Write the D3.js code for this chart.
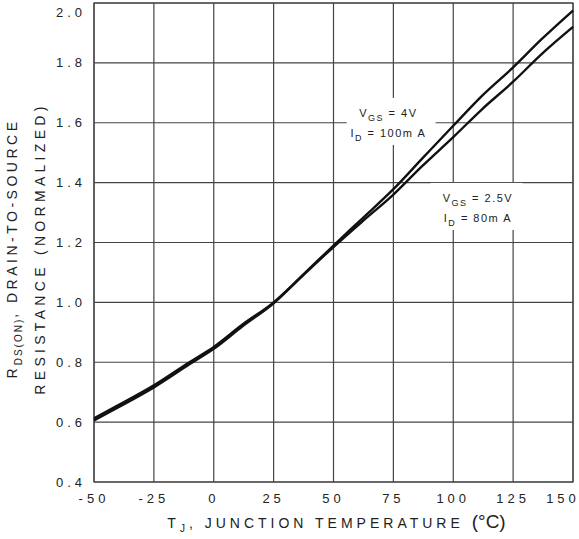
<!DOCTYPE html>
<html>
<head>
<title>RDS(on) vs junction temperature</title>
<script src="https://d3js.org/d3.v7.min.js"></script>
<style>
	body { margin: 0; background: #fff; }
	svg { display: block; font-family: "Liberation Sans", Arial, sans-serif; }
	.grid line, .frame { stroke: #444; stroke-width: 1.2; fill: none; }
	.ticklabel { font-size: 13px; letter-spacing: 4px; fill: #222; }
	.title { font-size: 14px; fill: #222; }
	.note { font-size: 11px; letter-spacing: 1.5px; fill: #222; }
	.curve { fill: none; stroke: #111; stroke-width: 2.4; }
</style>
</head>
<body>
<svg id="chart" width="579" height="539"></svg>
<script>
	// temperature points (deg C)
	var temps = [-50, -40, -25, -10, 0, 12, 25, 37, 50, 62, 75, 87, 100, 112, 125, 137, 150];
	// normalized RDS(on), VGS = 4V, ID = 100mA
	var r4V = [0.613, 0.656, 0.723, 0.801, 0.851, 0.926, 1.0, 1.09, 1.19, 1.28, 1.378, 1.48, 1.59, 1.69, 1.785, 1.88, 1.975];
	// normalized RDS(on), VGS = 2.5V, ID = 80mA
	var r25V = [0.606, 0.649, 0.716, 0.794, 0.845, 0.92, 0.997, 1.088, 1.185, 1.27, 1.36, 1.455, 1.552, 1.645, 1.737, 1.83, 1.92];

	var xTicks = [-50, -25, 0, 25, 50, 75, 100, 125, 150];
	var yTicks = [0.4, 0.6, 0.8, 1.0, 1.2, 1.4, 1.6, 1.8, 2.0];

	var margin = {left: 94, top: 3};
	var width = 479, height = 479;

	var svg = d3.select("#chart");
	var g = svg.append("g").attr("transform", "translate(" + margin.left + "," + margin.top + ")");

	var x = d3.scaleLinear().domain([-50, 150]).range([0, width]);
	var y = d3.scaleLinear().domain([0.4, 2.0]).range([height, 0]);

	// grid
	var grid = g.append("g").attr("class", "grid");
	grid.selectAll(".vx").data(xTicks).enter().append("line")
		.attr("x1", function(d) { return x(d); }).attr("x2", function(d) { return x(d); })
		.attr("y1", 0).attr("y2", height);
	grid.selectAll(".hy").data(yTicks).enter().append("line")
		.attr("y1", function(d) { return y(d); }).attr("y2", function(d) { return y(d); })
		.attr("x1", 0).attr("x2", width);
	g.append("rect").attr("class", "frame").attr("width", width).attr("height", height);

	// tick labels (last one pulled in so it fits the page)
	g.selectAll(".xl").data(xTicks).enter().append("text")
		.attr("class", "ticklabel")
		.attr("x", function(d) { return Math.min(x(d), width - 10); })
		.attr("y", height + 21)
		.attr("text-anchor", "middle")
		.text(function(d) { return d; });
	g.selectAll(".yl").data(yTicks).enter().append("text")
		.attr("class", "ticklabel")
		.attr("x", -8)
		.attr("y", function(d) { return y(d); })
		.attr("dy", function(d) { return d == 2.0 ? "1.05em" : "0.35em"; })
		.attr("text-anchor", "end")
		.text(d3.format(".1f"));

	// white boxes behind the notes
	var notes = [
		{box: [55.5, 92.6, 1.683, 1.526], cx: 72.9, lines: [[1.62, "V", "GS", " = 4V"], [1.552, "I", "D", " = 100m A"]]},
		{box: [90.5, 129, 1.399, 1.242], cx: 110.3, lines: [[1.335, "V", "GS", " = 2.5V"], [1.268, "I", "D", " = 80m A"]]}
	];
	notes.forEach(function(n) {
		g.append("rect")
			.attr("x", x(n.box[0])).attr("width", x(n.box[1]) - x(n.box[0]))
			.attr("y", y(n.box[2])).attr("height", y(n.box[3]) - y(n.box[2]))
			.attr("fill", "#fff");
	});

	// curves
	var line = d3.line()
		.x(function(d, i) { return x(temps[i]); })
		.y(function(d) { return y(d); })
		.curve(d3.curveMonotoneX);
	g.append("path").attr("class", "curve").attr("d", line(r4V));
	g.append("path").attr("class", "curve").attr("d", line(r25V));

	// note text
	notes.forEach(function(n) {
		n.lines.forEach(function(l) {
			var t = g.append("text").attr("class", "note")
				.attr("x", x(n.cx)).attr("y", y(l[0]))
				.attr("text-anchor", "middle");
			t.append("tspan").text(l[1]);
			t.append("tspan").attr("dy", 4).attr("font-size", "9px").text(l[2]);
			t.append("tspan").attr("dy", -4).text(l[3]);
		});
	});

	// x axis title
	var xt = svg.append("text").attr("class", "title")
		.attr("x", margin.left + width / 2 + 3).attr("y", 528)
		.attr("text-anchor", "middle");
	xt.append("tspan").style("letter-spacing", "4px").text("T");
	xt.append("tspan").attr("dy", 4).attr("font-size", "10px").style("letter-spacing", "4px").text("J");
	xt.append("tspan").attr("dy", -4).style("letter-spacing", "4px").text(", JUNCTION TEMPERATURE ");
	xt.append("tspan").attr("font-size", "19px").text("(°C)");

	// y axis title
	var cy = margin.top + height / 2 + 6;
	var yt1 = svg.append("text").attr("class", "title")
		.attr("transform", "translate(17," + cy + ") rotate(-90)")
		.attr("text-anchor", "middle");
	yt1.append("tspan").style("letter-spacing", "3px").text("R");
	yt1.append("tspan").attr("dy", 5).attr("font-size", "10px").style("letter-spacing", "2px").text("DS(ON)");
	yt1.append("tspan").attr("dy", -5).style("letter-spacing", "3.5px").text(", DRAIN-TO-SOURCE");
	svg.append("text").attr("class", "title")
		.attr("transform", "translate(45," + cy + ") rotate(-90)")
		.attr("text-anchor", "middle")
		.style("letter-spacing", "4.3px")
		.text("RESISTANCE (NORMALIZED)");
</script>
</body>
</html>
